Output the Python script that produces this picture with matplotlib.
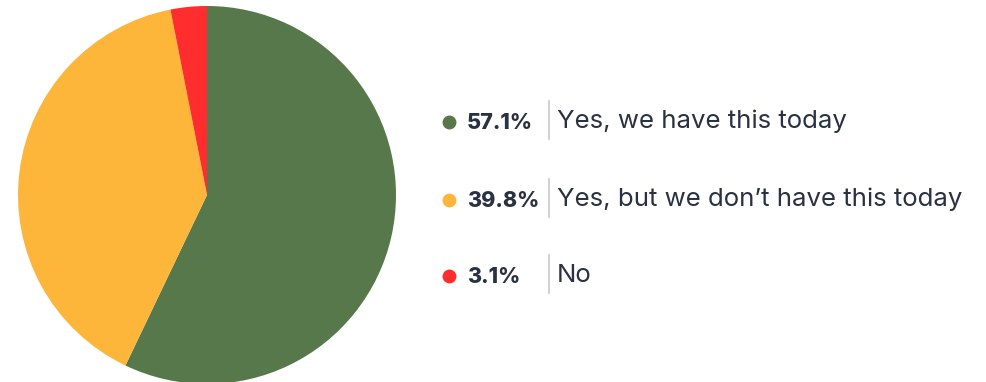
import matplotlib.pyplot as plt

labels = ['Yes, we have this today', "Yes, but we don\u2019t have this today", 'No']
values = [57.1, 39.8, 3.1]
colors = ['#56784A', '#FDB63A', '#FF2D2D']

W, H = 987, 382
fig = plt.figure(figsize=(W / 100, H / 100), dpi=100)

# pie axes, placed in pixel terms
cx, cy, r = 207, 195, 189
ax = fig.add_axes([(cx - r) / W, (H - cy - r) / H, 2 * r / W, 2 * r / H])
ax.pie(values, colors=colors, startangle=90, counterclock=False, radius=1,
       wedgeprops=dict(linewidth=0))
ax.set_xlim(-1, 1)
ax.set_ylim(-1, 1)
ax.set_aspect('equal')
ax.axis('off')

# legend overlay in pixel coordinates
lg = fig.add_axes([0, 0, 1, 1])
lg.set_xlim(0, W)
lg.set_ylim(H, 0)
lg.axis('off')

text_color = '#2A3142'
rows_y = [121, 199, 275]
for y, lab, val, col in zip(rows_y, labels, values, colors):
    lg.scatter([449], [y + 1], s=100, color=col, linewidth=0)
    lg.text(467, y + 2, f'{val}%', fontsize=15.5, fontweight='heavy', color=text_color,
            va='center', ha='left', family='Inter')
    lg.plot([549, 549], [y - 20, y + 18], color='#C8C8C8', linewidth=1.2)
    lg.text(557, y, lab, fontsize=18.6, color=text_color, va='center', ha='left',
            family='Inter')

fig.savefig('out.png', dpi=100)
